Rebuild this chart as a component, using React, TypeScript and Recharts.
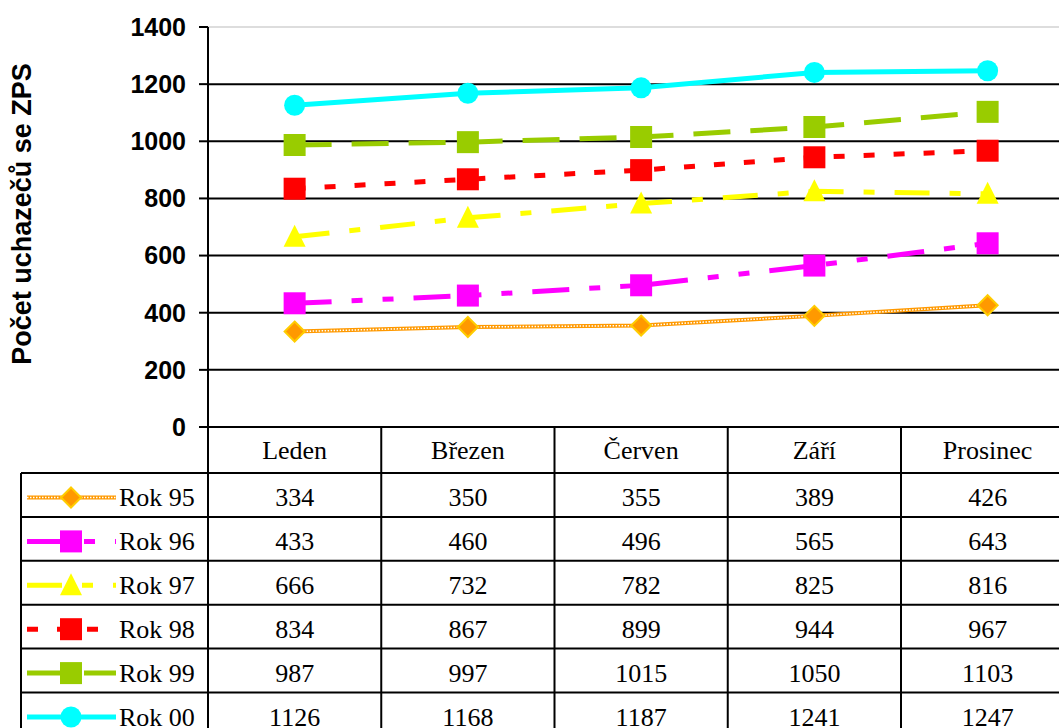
import React from 'react';
import { LineChart, Line, XAxis, YAxis, CartesianGrid, ReferenceLine } from 'recharts';

// ---- data ----
const months = ['Leden', 'Březen', 'Červen', 'Září', 'Prosinec'];
const rok95 = [334, 350, 355, 389, 426];
const rok96 = [433, 460, 496, 565, 643];
const rok97 = [666, 732, 782, 825, 816];
const rok98 = [834, 867, 899, 944, 967];
const rok99 = [987, 997, 1015, 1050, 1103];
const rok00 = [1126, 1168, 1187, 1241, 1247];
const yTicks = [0, 200, 400, 600, 800, 1000, 1200, 1400];
const gridValues = [0, 200, 400, 600, 800, 1000, 1200];
const yTitle = 'Počet uchazečů se ZPS';

type Kind = 'diamond' | 'square' | 'triangle' | 'circle';
interface Series {
  key: string;
  name: string;
  values: number[];
  color: string;
  width: number;
  dash?: string;
  textured?: boolean;
  marker: Kind;
}

const seriesList: Series[] = [
  { key: 'r95', name: 'Rok 95', values: rok95, color: '#FF9900', width: 4, textured: true, marker: 'diamond' },
  { key: 'r96', name: 'Rok 96', values: rok96, color: '#FF00FF', width: 5, dash: '37 20 11 20 11 20', marker: 'square' },
  { key: 'r97', name: 'Rok 97', values: rok97, color: '#FFFF00', width: 5, dash: '35 20 11 20', marker: 'triangle' },
  { key: 'r98', name: 'Rok 98', values: rok98, color: '#FF0000', width: 5, dash: '11 19', marker: 'square' },
  { key: 'r99', name: 'Rok 99', values: rok99, color: '#99CC00', width: 5, dash: '37 20', marker: 'square' },
  { key: 'r00', name: 'Rok 00', values: rok00, color: '#00FFFF', width: 5, marker: 'circle' },
];

const data = months.map((m, i) => {
  const row: Record<string, string | number> = { month: m };
  seriesList.forEach((s) => {
    row[s.key] = s.values[i];
  });
  return row;
});

// ---- layout ----
const W = 1076;
const H = 740;
const TOP = 27;
const PLOT_H = 400;
const LEFT = 208;
const PLOT_W = 866.25;
const BAND = PLOT_W / months.length;
const RIGHT = W - LEFT - PLOT_W;
const TABLE_TOP = TOP + PLOT_H;
const HEADER_H = 46;
const ROW_H = 43.9;
const LEG_LEFT = 21;
const SERIF = "'Liberation Serif', 'Times New Roman', 'DejaVu Serif', serif";
const SANS = "'Liberation Sans', Arial, sans-serif";
const serifStyle: React.CSSProperties = { fontFamily: SERIF, fontSize: 26, fill: '#000' };
const TEXTURE_DASH = '1.5 1.5';

function Marker({ kind, cx, cy, color }: { kind: Kind; cx: number; cy: number; color: string }) {
  if (kind === 'square') {
    return <rect x={cx - 11} y={cy - 11} width={22} height={22} fill={color} />;
  }
  if (kind === 'circle') {
    return <circle cx={cx} cy={cy} r={10.5} fill={color} />;
  }
  if (kind === 'triangle') {
    return <polygon points={`${cx},${cy - 12} ${cx + 11},${cy + 10} ${cx - 11},${cy + 10}`} fill={color} />;
  }
  return (
    <polygon
      points={`${cx},${cy - 10} ${cx + 10},${cy} ${cx},${cy + 10} ${cx - 10},${cy}`}
      fill="#FF9900"
      stroke="#FFCC00"
      strokeWidth={2}
    />
  );
}

const border = { stroke: '#000', strokeWidth: 2 };

function TableTick(props: any) {
  const { x, index, payload } = props;
  const l = x - BAND / 2;
  const r = x + BAND / 2;
  const els: React.ReactNode[] = [];
  els.push(
    <text key="h" x={x} y={TABLE_TOP + 32} textAnchor="middle" style={serifStyle}>
      {payload.value}
    </text>
  );
  els.push(<line key="vr" x1={r} x2={r} y1={TABLE_TOP} y2={H} {...border} />);
  if (index === 0) {
    els.push(<line key="vl" x1={l} x2={l} y1={TABLE_TOP} y2={H} {...border} />);
    els.push(<line key="vleg" x1={LEG_LEFT} x2={LEG_LEFT} y1={TABLE_TOP + HEADER_H} y2={H} {...border} />);
  }
  seriesList.forEach((s, si) => {
    const top = TABLE_TOP + HEADER_H + si * ROW_H;
    els.push(<line key={`hl${si}`} x1={index === 0 ? LEG_LEFT : l} x2={r} y1={top} y2={top} {...border} />);
    els.push(
      <text key={`v${si}`} x={x} y={top + 33} textAnchor="middle" style={serifStyle}>
        {s.values[index]}
      </text>
    );
    if (index === 0) {
      const cy = top + 24.5;
      els.push(
        <line
          key={`ls${si}`}
          x1={27}
          x2={116}
          y1={cy}
          y2={cy}
          stroke={s.color}
          strokeWidth={s.width}
          strokeDasharray={s.dash}
        />
      );
      if (s.textured) {
        els.push(
          <line
            key={`lx${si}`}
            x1={27}
            x2={116}
            y1={cy}
            y2={cy}
            stroke="#FFFFFF"
            strokeWidth={1.5}
            strokeDasharray={TEXTURE_DASH}
          />
        );
      }
      els.push(<Marker key={`lm${si}`} kind={s.marker} cx={71} cy={cy} color={s.color} />);
      els.push(
        <text key={`lt${si}`} x={119} y={top + 33} style={serifStyle}>
          {s.name}
        </text>
      );
    }
  });
  return <g>{els}</g>;
}

function YTitle() {
  return (
    <text
      transform={`translate(31, 214) rotate(-90)`}
      textAnchor="middle"
      style={{ fontFamily: SANS, fontWeight: 'bold', fontSize: 27, fill: '#000' }}
    >
      {yTitle}
    </text>
  );
}

export default function App() {
  return (
    <div
      style={{
        position: 'absolute',
        left: 0,
        top: 0,
        width: 1059,
        height: 728,
        overflow: 'hidden',
        background: '#fff',
      }}
    >
      <LineChart
        width={W}
        height={H}
        data={data}
        margin={{ top: TOP, right: RIGHT, bottom: 0, left: 0 }}
      >
        <CartesianGrid vertical={false} stroke="#000" strokeWidth={2} horizontalValues={gridValues} />
        <ReferenceLine y={1400} stroke="#BBBBBB" strokeWidth={1} />
        <XAxis
          dataKey="month"
          height={H - TOP - PLOT_H}
          padding={{ left: BAND / 2, right: BAND / 2 }}
          axisLine={{ stroke: '#000', strokeWidth: 2 }}
          tickLine={false}
          tick={<TableTick />}
          interval={0}
        />
        <YAxis
          width={LEFT}
          domain={[0, 1400]}
          ticks={yTicks}
          interval={0}
          axisLine={{ stroke: '#000', strokeWidth: 2 }}
          tickLine={{ stroke: '#000', strokeWidth: 2 }}
          tickSize={9}
          tickMargin={13}
          tick={{ fill: '#000', fontSize: 25, fontWeight: 'bold', fontFamily: SANS }}
          label={{ content: () => <YTitle /> }}
        />
        {seriesList.map((s) =>
          s.textured ? (
            <Line
              key={`${s.key}-tex`}
              dataKey={s.key}
              name={`${s.name} texture`}
              legendType="none"
              type="linear"
              stroke={s.color}
              strokeWidth={s.width}
              isAnimationActive={false}
              activeDot={false}
              dot={false}
            />
          ) : null
        )}
        {seriesList.map((s) => (
          <Line
            key={s.key}
            dataKey={s.key}
            name={s.name}
            type="linear"
            stroke={s.textured ? '#FFFFFF' : s.color}
            strokeWidth={s.textured ? 1.5 : s.width}
            strokeDasharray={s.textured ? TEXTURE_DASH : s.dash}
            isAnimationActive={false}
            activeDot={false}
            dot={(p: any) => (
              <Marker key={`${s.key}-${p.index}`} kind={s.marker} cx={p.cx} cy={p.cy} color={s.color} />
            )}
          />
        ))}
      </LineChart>
    </div>
  );
}
